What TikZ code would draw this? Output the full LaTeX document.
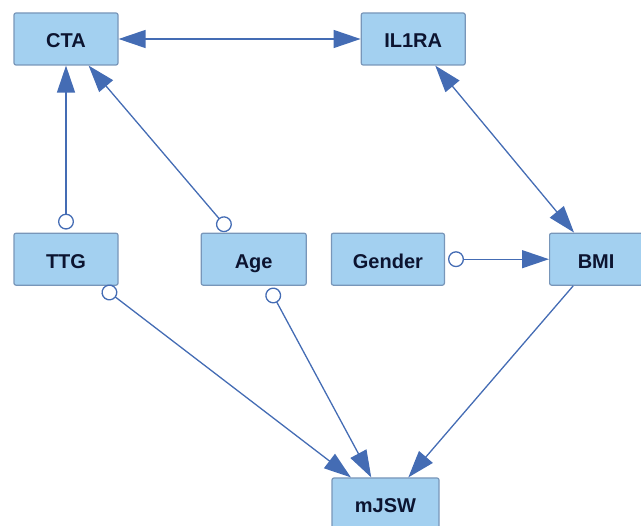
\documentclass[tikz,border=0pt]{standalone}
\usepackage{fontspec}
\setmainfont{Liberation Sans}
\usetikzlibrary{arrows.meta,positioning}
\definecolor{varfill}{RGB}{163,208,240}
\definecolor{varedge}{RGB}{120,150,185}
\definecolor{linkblue}{RGB}{68,108,180}
\definecolor{varink}{RGB}{12,20,48}

\begin{document}
\begin{tikzpicture}[
  x=1pt, y=-1pt,
  every node/.style={font=\fontsize{20}{24}\selectfont\bfseries, text=varink},
  varnode/.style={draw=varedge, fill=varfill, line width=1.2pt, rounded corners=2pt,
    minimum width=104pt, minimum height=52pt, inner sep=0pt,
    text height=20pt, text depth=2pt},
  arr/.style={draw=linkblue, line width=1.3pt, -{Triangle[length=27pt,width=18pt]}},
  biarr/.style={arr, {Triangle[length=27pt,width=18pt]}-{Triangle[length=27pt,width=18pt]}},
  circarr/.style={arr, {Circle[open,length=16pt,width=16pt]}-{Triangle[length=27pt,width=18pt]},
    shorten <=3pt}
]
  \useasboundingbox (0,0) rectangle (641,526);

  \node[varnode] (cta) at (66,39) {CTA};
  \node[varnode, right=242pt of cta] (il1ra) {IL1RA};
  \node[varnode, below=167pt of cta] (ttg) {TTG};
  \node[varnode, minimum width=105pt, right=82pt of ttg] (age) {Age};
  \node[varnode, minimum width=113pt, right=24pt of age] (gender) {Gender};
  \node[varnode, minimum width=93pt, right=104pt of gender] (bmi) {BMI};
  \node[varnode, minimum width=107pt] (mjsw) at (385.5,504) {mJSW};

  \draw[biarr] (cta) -- (il1ra);
  \draw[biarr] (il1ra) -- (bmi);
  \draw[circarr] (ttg) -- (cta);
  \draw[circarr] (age) -- (cta);
  \draw[circarr] (gender) -- (bmi);
  \draw[circarr] (ttg) -- (mjsw);
  \draw[circarr] (age) -- (mjsw);
  \draw[arr] (bmi) -- (mjsw);
\end{tikzpicture}
\end{document}
